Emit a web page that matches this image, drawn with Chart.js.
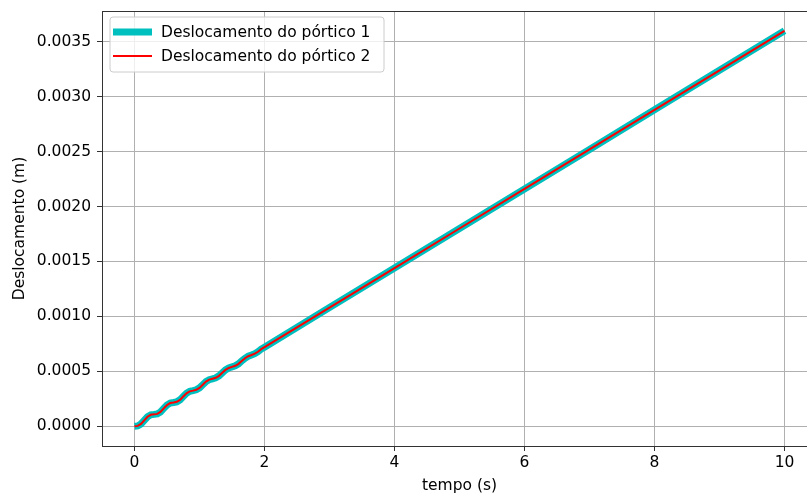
<!DOCTYPE html>
<html>
<head>
<meta charset="utf-8">
<script src="https://cdn.jsdelivr.net/npm/chart.js@4.4.1/dist/chart.umd.min.js"></script>
<style>
  html, body { margin: 0; padding: 0; background: #fff; overflow: hidden; }
  #wrap { width: 830px; height: 495px; }
</style>
</head>
<body>
<div id="wrap"><canvas id="deslocChart" width="830" height="495"></canvas></div>
<script>
// tempo (s)
var tempo = [0, 0.05, 0.1, 0.15, 0.2, 0.25, 0.3, 0.35, 0.4, 0.45, 0.5, 0.55, 0.6, 0.65, 0.7, 0.75,
  0.8, 0.85, 0.9, 0.95, 1.0, 1.05, 1.1, 1.15, 1.2, 1.25, 1.3, 1.35, 1.4, 1.45, 1.5, 1.55,
  1.6, 1.65, 1.7, 1.75, 1.8, 1.85, 1.9, 1.95, 2.0, 3, 4, 5, 6, 7, 8, 9, 10];

// deslocamento (m) - the two frames overlap on the picture
var deslocamento1 = [0, 0.0000031, 0.0000211, 0.000054, 0.0000862, 0.0001042, 0.000108, 0.0001125,
  0.0001305, 0.000162, 0.0001928, 0.0002108, 0.000216, 0.000222, 0.00024, 0.00027,
  0.0002993, 0.0003173, 0.000324, 0.0003314, 0.0003494, 0.000378, 0.000406, 0.000424,
  0.000432, 0.0004407, 0.0004587, 0.000486, 0.0005126, 0.0005306, 0.00054, 0.00055,
  0.000568, 0.000594, 0.000619, 0.000637, 0.000648, 0.00066, 0.000678, 0.000702,
  0.00072, 0.00108, 0.00144, 0.0018, 0.00216, 0.00252, 0.00288, 0.00324, 0.0036];
var deslocamento2 = deslocamento1.slice();

var legendLabels = ["Deslocamento do pórtico 1", "Deslocamento do pórtico 2"];
var xTicks = [0, 2, 4, 6, 8, 10];
var yTicks = [0, 0.0005, 0.001, 0.0015, 0.002, 0.0025, 0.003, 0.0035];

function toPoints(xs, ys) {
  var pts = [];
  for (var i = 0; i < xs.length; i++) pts.push({x: xs[i], y: ys[i]});
  return pts;
}

var FONT = "'DejaVu Sans', sans-serif";
var FSIZE = 15.5;

var framePlugin = {
  id: 'frame',
  afterDatasetsDraw: function(chart) {
    var a = chart.chartArea, ctx = chart.ctx;
    ctx.save();
    ctx.strokeStyle = '#333';
    ctx.lineWidth = 1;
    ctx.strokeRect(a.left + 0.5, a.top + 0.5, a.right - a.left, a.bottom - a.top);
    ctx.restore();
  },
  afterDraw: function(chart) {
    // legend box, upper left like matplotlib
    var ctx = chart.ctx;
    var ds = chart.data.datasets;
    ctx.save();
    var bx = 110, by = 17, bw = 274, bh = 55, r = 3;
    ctx.beginPath();
    ctx.moveTo(bx + r, by);
    ctx.arcTo(bx + bw, by, bx + bw, by + bh, r);
    ctx.arcTo(bx + bw, by + bh, bx, by + bh, r);
    ctx.arcTo(bx, by + bh, bx, by, r);
    ctx.arcTo(bx, by, bx + bw, by, r);
    ctx.closePath();
    ctx.fillStyle = 'rgba(255,255,255,0.8)';
    ctx.fill();
    ctx.strokeStyle = '#cccccc';
    ctx.lineWidth = 1;
    ctx.stroke();
    var rows = [32, 56];
    for (var i = 0; i < ds.length; i++) {
      ctx.beginPath();
      ctx.strokeStyle = ds[i].borderColor;
      ctx.lineWidth = ds[i].borderWidth;
      ctx.lineCap = 'butt';
      ctx.moveTo(113, rows[i]);
      ctx.lineTo(152, rows[i]);
      ctx.stroke();
      ctx.fillStyle = '#000';
      ctx.font = FSIZE + 'px ' + FONT;
      ctx.textBaseline = 'middle';
      ctx.textAlign = 'left';
      ctx.fillText(ds[i].label, 161, rows[i] + 1);
    }
    ctx.restore();
  }
};

var ctx = document.getElementById("deslocChart").getContext('2d');
var chart = new Chart(ctx, {
  type: 'line',
  data: {
    datasets: [
      {
        label: legendLabels[0],
        data: toPoints(tempo, deslocamento1),
        borderColor: "#00BFBF",
        borderWidth: 7,
        pointRadius: 0,
        fill: false,
        order: 1
      },
      {
        label: legendLabels[1],
        data: toPoints(tempo, deslocamento2),
        borderColor: "#FF0000",
        borderWidth: 2,
        pointRadius: 0,
        fill: false,
        order: 0
      }
    ]
  },
  plugins: [framePlugin],
  options: {
    responsive: false,
    animation: false,
    layout: { padding: { top: 11, right: 13, left: 0, bottom: 0 } },
    plugins: {
      legend: { display: false },
      tooltip: { enabled: false }
    },
    scales: {
      x: {
        type: 'linear',
        min: -0.5,
        max: 10.5,
        afterBuildTicks: function(scale) {
          scale.ticks = xTicks.map(function(v) { return {value: v}; });
        },
        afterFit: function(scale) {
          scale.height = 49;
          scale.paddingLeft = 0;
          scale.paddingRight = 0;
        },
        grid: { color: '#b0b0b0', tickColor: '#333', tickLength: 5, lineWidth: 1 },
        border: { display: true, color: '#333', width: 1 },
        ticks: {
          color: '#000',
          font: { family: FONT, size: FSIZE },
          padding: 3,
          maxRotation: 0,
          callback: function(v) { return String(v); }
        },
        title: {
          display: true,
          text: 'tempo (s)',
          color: '#000',
          font: { family: FONT, size: FSIZE },
          padding: { top: 0, bottom: 0 }
        }
      },
      y: {
        type: 'linear',
        min: -0.00018,
        max: 0.00378,
        afterBuildTicks: function(scale) {
          scale.ticks = yTicks.map(function(v) { return {value: v}; });
        },
        afterFit: function(scale) {
          scale.width = 102;
          scale.paddingTop = 0;
          scale.paddingBottom = 0;
        },
        grid: { color: '#b0b0b0', tickColor: '#333', tickLength: 5, lineWidth: 1 },
        border: { display: true, color: '#333', width: 1 },
        ticks: {
          color: '#000',
          font: { family: FONT, size: FSIZE },
          padding: 6,
          callback: function(v) { return Number(v).toFixed(4); }
        },
        title: {
          display: true,
          text: 'Deslocamento (m)',
          color: '#000',
          font: { family: FONT, size: FSIZE },
          padding: { top: 11, bottom: 0 }
        }
      }
    }
  }
});
</script>
</body>
</html>
